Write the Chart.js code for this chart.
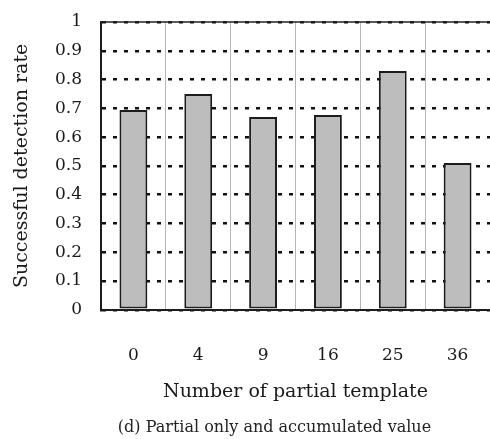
<!DOCTYPE html>
<html>
<head>
<meta charset="utf-8">
<script src="https://cdn.jsdelivr.net/npm/chart.js@4/dist/chart.umd.min.js"></script>
<style>
  html, body { margin: 0; padding: 0; background: #fff; }
  #wrap { width: 490px; height: 439px; }
</style>
</head>
<body>
<div id="wrap"><canvas id="c" width="490" height="439"></canvas></div>
<script>
const categories = ['0', '4', '9', '16', '25', '36'];
const detectionRate = [0.694, 0.75, 0.67, 0.677, 0.83, 0.51];
const yTicks = [0, 0.1, 0.2, 0.3, 0.4, 0.5, 0.6, 0.7, 0.8, 0.9, 1];

const serif = '"DejaVu Serif", "Liberation Serif", serif';

const frameTop = {
  id: 'frameTop',
  afterLayout(chart) {
    // shift the caption box so its centre sits where the reference caption is
    if (chart.titleBlock) { chart.titleBlock.left = 59; }
  },
  afterDatasetsDraw(chart) {
    const { ctx, chartArea } = chart;
    ctx.save();
    ctx.strokeStyle = '#222';
    ctx.lineWidth = 1.5;
    ctx.beginPath();
    ctx.moveTo(chartArea.left, chartArea.top);
    ctx.lineTo(chartArea.right, chartArea.top);
    ctx.stroke();
    ctx.restore();
  }
};

new Chart(document.getElementById('c'), {
  type: 'bar',
  data: {
    labels: categories,
    datasets: [{
      data: detectionRate,
      backgroundColor: '#bdbdbd',
      borderColor: '#1c1c1c',
      borderWidth: 2,
      borderSkipped: false,
      barPercentage: 0.43,
      categoryPercentage: 1
    }]
  },
  options: {
    responsive: false,
    animation: false,
    devicePixelRatio: 1,
    layout: { padding: { top: 22, right: 0, left: 0, bottom: 0 } },
    plugins: {
      legend: { display: false },
      tooltip: { enabled: false },
      title: {
        display: true,
        position: 'bottom',
        text: '(d) Partial only and accumulated value',
        color: '#222',
        font: { family: serif, size: 16, weight: 'normal' },
        padding: { top: 0, bottom: 2 }
      }
    },
    scales: {
      x: {
        afterFit(scale) { scale.height = 108; scale.paddingLeft = 0; scale.paddingRight = 0; },
        grid: { color: '#b5b5b5', lineWidth: 1, drawTicks: false, offset: true },
        border: { color: '#1c1c1c', width: 2 },
        ticks: { color: '#1a1a1a', font: { family: serif, size: 17 }, padding: 36 },
        title: {
          display: true,
          text: 'Number of partial template',
          color: '#1a1a1a',
          font: { family: serif, size: 19 },
          padding: { top: 0, bottom: 14 }
        }
      },
      y: {
        min: 0,
        max: 1,
        afterFit(scale) { scale.width = 101; scale.paddingTop = 0; scale.paddingBottom = 0; },
        afterBuildTicks(scale) { scale.ticks = yTicks.map(v => ({ value: v })); },
        grid: { color: '#111', lineWidth: 2.5, drawTicks: false },
        border: { color: '#1c1c1c', width: 2, dash: [4, 7] },
        ticks: {
          color: '#1a1a1a',
          font: { family: serif, size: 17 },
          padding: 19,
          callback: v => String(Math.round(v * 10) / 10)
        },
        title: {
          display: true,
          text: 'Successful detection rate',
          color: '#1a1a1a',
          font: { family: serif, size: 19 },
          padding: { top: 11, bottom: 0 }
        }
      }
    }
  },
  plugins: [frameTop]
});
</script>
</body>
</html>
